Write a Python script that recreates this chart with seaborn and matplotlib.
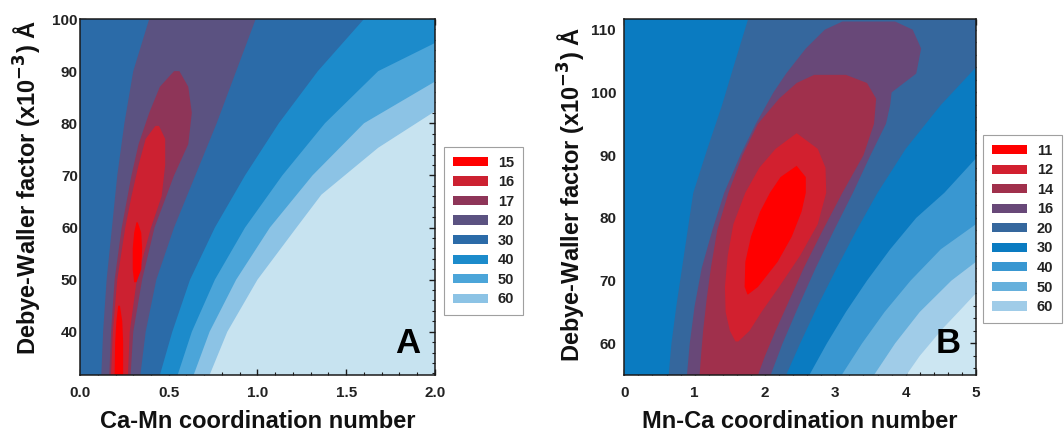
import numpy as np
import matplotlib
matplotlib.use("Agg")
import matplotlib.pyplot as plt
import seaborn as sns
from matplotlib.patches import Patch
from matplotlib.ticker import MultipleLocator

# ---------------- Panel A : Ca-Mn ----------------
A_levels = [15, 16, 17, 20, 30, 40, 50, 60]
A_colors = ["#ff0000", "#cc2131", "#8e3558", "#5b5281", "#2b6ba8", "#1c8bcb", "#4ba5d9", "#8cc3e5"]
A_above = "#c7e3f0"
A_xlim = (0.0, 2.0)
A_ylim = (31.7, 100.0)
A_xticks = [0.0, 0.5, 1.0, 1.5, 2.0]
A_yticks = [40, 50, 60, 70, 80, 90, 100]

# contour boundaries: sigma values and left / right coordination-number edge of region R < level
A60_y = [31.7, 40, 50, 60, 66.3, 75.3, 82.3, 100]
A60_l = [0, 0, 0, 0, 0, 0, 0, 0]
A60_r = [0.73, 0.83, 1.0, 1.22, 1.36, 1.68, 2.0, 2.0]
A50_y = [31.7, 40, 50, 60, 70, 80, 88, 100]
A50_l = [0, 0, 0, 0, 0, 0, 0, 0]
A50_r = [0.64, 0.73, 0.88, 1.07, 1.31, 1.60, 2.0, 2.0]
A40_y = [31.7, 40, 50, 60, 70, 80, 90, 95.4, 100]
A40_l = [0, 0, 0, 0, 0, 0, 0, 0, 0]
A40_r = [0.55, 0.63, 0.76, 0.93, 1.14, 1.38, 1.68, 2.0, 2.0]
A30_y = [31.7, 40, 50, 60, 70, 80, 90, 100]
A30_l = [0, 0, 0, 0, 0, 0, 0, 0]
A30_r = [0.45, 0.52, 0.62, 0.76, 0.93, 1.12, 1.34, 1.6]
A20_y = [31.7, 40, 50, 60, 70, 80, 90, 100]
A20_l = [0.12, 0.13, 0.15, 0.18, 0.21, 0.25, 0.30, 0.39]
A20_r = [0.34, 0.37, 0.43, 0.53, 0.65, 0.77, 0.88, 0.99]
A17_y = [31.7, 40, 50, 60, 70, 76, 82, 87, 90]
A17_l = [0.165, 0.175, 0.195, 0.235, 0.29, 0.33, 0.39, 0.45, 0.53]
A17_r = [0.285, 0.30, 0.35, 0.42, 0.53, 0.61, 0.63, 0.61, 0.56]
A16_y = [31.7, 40, 50, 60, 66, 72, 77, 79.5]
A16_l = [0.175, 0.185, 0.21, 0.255, 0.29, 0.33, 0.37, 0.425]
A16_r = [0.27, 0.28, 0.32, 0.40, 0.46, 0.48, 0.48, 0.445]
A15a_y = [31.7, 38, 42, 45]
A15a_l = [0.195, 0.198, 0.205, 0.215]
A15a_r = [0.243, 0.243, 0.238, 0.225]
A15b_y = [49.5, 52, 56, 59, 61]
A15b_l = [0.305, 0.297, 0.297, 0.305, 0.318]
A15b_r = [0.318, 0.345, 0.35, 0.345, 0.325]

# ---------------- Panel B : Mn-Ca ----------------
B_levels = [11, 12, 14, 16, 20, 30, 40, 50, 60]
B_colors = ["#ff0000", "#d2202f", "#a0304c", "#684878", "#35679d", "#0a7bc1", "#3997d1", "#66b0dc", "#a0cce8"]
B_above = "#cce6f2"
B_xlim = (0.0, 5.0)
B_ylim = (54.95, 111.7)
B_xticks = [0, 1, 2, 3, 4, 5]
B_yticks = [60, 70, 80, 90, 100, 110]

B60_y = [54.95, 58, 62.4, 65, 68, 111.7]
B60_l = [0, 0, 0, 0, 0, 0]
B60_r = [4.01, 4.2, 4.53, 4.75, 5.0, 5.0]
B50_y = [54.95, 60, 65, 70, 73, 111.7]
B50_l = [0, 0, 0, 0, 0, 0]
B50_r = [3.55, 3.85, 4.2, 4.65, 5.0, 5.0]
B40_y = [54.95, 60, 65, 70, 75, 79, 111.7]
B40_l = [0, 0, 0, 0, 0, 0, 0]
B40_r = [3.09, 3.38, 3.70, 4.07, 4.5, 5.0, 5.0]
B30_y = [54.95, 60, 65, 70, 75, 80, 84, 89.5, 111.7]
B30_l = [0, 0, 0, 0, 0, 0, 0, 0, 0]
B30_r = [2.63, 2.88, 3.15, 3.45, 3.78, 4.15, 4.55, 5.0, 5.0]
B20_y = [54.95, 60, 66, 72, 78, 84, 91, 98, 104, 111.7]
B20_l = [0.63, 0.67, 0.74, 0.82, 0.90, 0.98, 1.18, 1.39, 1.55, 1.76]
B20_r = [2.3, 2.5, 2.75, 3.02, 3.3, 3.6, 4.0, 4.5, 5.0, 5.0]
B16_y = [54.95, 60, 66, 72, 78, 84, 90, 95, 98, 100, 103, 107, 110, 111.3]
B16_l = [0.89, 0.93, 1.0, 1.1, 1.25, 1.42, 1.65, 1.87, 2.02, 2.12, 2.3, 2.58, 2.85, 3.1]
B16_r = [2.08, 2.25, 2.48, 2.72, 2.98, 3.25, 3.5, 3.72, 3.78, 3.80, 4.15, 4.22, 4.1, 3.85]
B14_y = [54.95, 58, 62, 67, 72, 78, 84, 90, 95, 99, 101.5, 102.8]
B14_l = [1.07, 1.09, 1.12, 1.17, 1.23, 1.32, 1.48, 1.68, 1.9, 2.2, 2.45, 2.7]
B14_r = [1.9, 2.0, 2.15, 2.35, 2.55, 2.82, 3.1, 3.4, 3.55, 3.58, 3.45, 3.15]
B12_y = [60.3, 62, 65, 69, 74, 79, 84, 88, 91, 93.5]
B12_l = [1.58, 1.50, 1.44, 1.43, 1.47, 1.55, 1.72, 1.92, 2.15, 2.45]
B12_r = [1.62, 1.78, 1.95, 2.2, 2.5, 2.75, 2.87, 2.86, 2.75, 2.45]
B11_y = [67.8, 69, 73, 77, 81, 84, 86.5, 88.3]
B11_l = [1.75, 1.71, 1.72, 1.80, 1.93, 2.07, 2.22, 2.45]
B11_r = [1.76, 1.90, 2.18, 2.38, 2.52, 2.58, 2.58, 2.45]

A_regions = [(A60_y, A60_l, A60_r, 7), (A50_y, A50_l, A50_r, 6), (A40_y, A40_l, A40_r, 5),
             (A30_y, A30_l, A30_r, 4), (A20_y, A20_l, A20_r, 3), (A17_y, A17_l, A17_r, 2),
             (A16_y, A16_l, A16_r, 1), (A15a_y, A15a_l, A15a_r, 0), (A15b_y, A15b_l, A15b_r, 0)]
B_regions = [(B60_y, B60_l, B60_r, 8), (B50_y, B50_l, B50_r, 7), (B40_y, B40_l, B40_r, 6),
             (B30_y, B30_l, B30_r, 5), (B20_y, B20_l, B20_r, 4), (B16_y, B16_l, B16_r, 3),
             (B14_y, B14_l, B14_r, 2), (B12_y, B12_l, B12_r, 1), (B11_y, B11_l, B11_r, 0)]

sns.set_style("ticks")
plt.rcParams["font.family"] = ["Liberation Sans", "DejaVu Sans"]
plt.rcParams["font.weight"] = "bold"
plt.rcParams["axes.labelweight"] = "bold"

fig = plt.figure(figsize=(10.64, 4.32), dpi=100)
axA = fig.add_axes([0.0752, 0.1319, 0.3336, 0.8241])
axB = fig.add_axes([0.5868, 0.1319, 0.3305, 0.8241])


def draw(ax, regions, colors, above, xlim, ylim):
    ax.set_facecolor(above)
    for ys, ls, rs, ci in regions:
        xs = list(ls) + list(rs)[::-1]
        yy = list(ys) + list(ys)[::-1]
        ax.fill(xs, yy, color=colors[ci], lw=0, antialiased=True)
    ax.set_xlim(*xlim)
    ax.set_ylim(*ylim)


def style(ax, xticks, yticks, xminor, yminor, xfmt, ypad, xlabel, ylabel, ylabpad, ylab_y, letter, levels, colors, leg_anchor):
    ax.set_xticks(xticks)
    ax.set_xticklabels([xfmt.format(v) for v in xticks])
    ax.set_yticks(yticks)
    ax.xaxis.set_minor_locator(MultipleLocator(xminor))
    ax.yaxis.set_minor_locator(MultipleLocator(yminor))
    ax.tick_params(which="both", direction="in", top=True, right=True, color="#1a1a1a")
    ax.tick_params(which="major", length=4.5, width=1.0, labelsize=11)
    ax.tick_params(which="minor", length=2.4, width=0.8)
    ax.tick_params(axis="x", which="major", pad=8)
    ax.tick_params(axis="y", which="major", pad=ypad)
    for lab in ax.get_xticklabels() + ax.get_yticklabels():
        lab.set_fontweight("bold")
        lab.set_color("#222222")
    for sp in ax.spines.values():
        sp.set_linewidth(1.1)
        sp.set_color("#1a1a1a")
    ax.set_xlabel(xlabel, fontsize=17, fontweight="bold", labelpad=7, color="#111111")
    ax.set_ylabel(ylabel, fontsize=17, fontweight="bold", labelpad=ylabpad, color="#111111")
    ax.yaxis.label.set_y(ylab_y)
    ax.text(0.958, 0.042, letter, transform=ax.transAxes, ha="right", va="bottom",
            fontsize=25, fontweight="bold", color="black")
    handles = [Patch(facecolor=c, edgecolor="none", label=str(l)) for l, c in zip(levels, colors)]
    leg = fig.legend(handles=handles, loc="upper left", bbox_to_anchor=leg_anchor,
                     bbox_transform=fig.transFigure, frameon=True, fancybox=False,
                     edgecolor="#888888", fontsize=10.5, handlelength=2.4, handleheight=0.6,
                     labelspacing=0.38, handletextpad=0.7, borderpad=0.6, borderaxespad=0)
    leg.get_frame().set_linewidth(0.8)
    for t in leg.get_texts():
        t.set_fontweight("bold")
        t.set_color("#222222")


draw(axA, A_regions, A_colors, A_above, A_xlim, A_ylim)
draw(axB, B_regions, B_colors, B_above, B_xlim, B_ylim)

ylab = "Debye-Waller factor (x10$^{\\mathbf{-3}}$) \u00c5"
style(axA, A_xticks, A_yticks, 0.1, 2, "{:.1f}", 1.5, "Ca-Mn coordination number", ylab, 6, 0.528, "A",
      A_levels, A_colors, (0.4173, 0.660))
style(axB, B_xticks, B_yticks, 0.2, 2, "{:d}", 6, "Mn-Ca coordination number", ylab, 1.5, 0.508, "B",
      B_levels, B_colors, (0.9239, 0.6875))

fig.savefig("out.png", dpi=100)
